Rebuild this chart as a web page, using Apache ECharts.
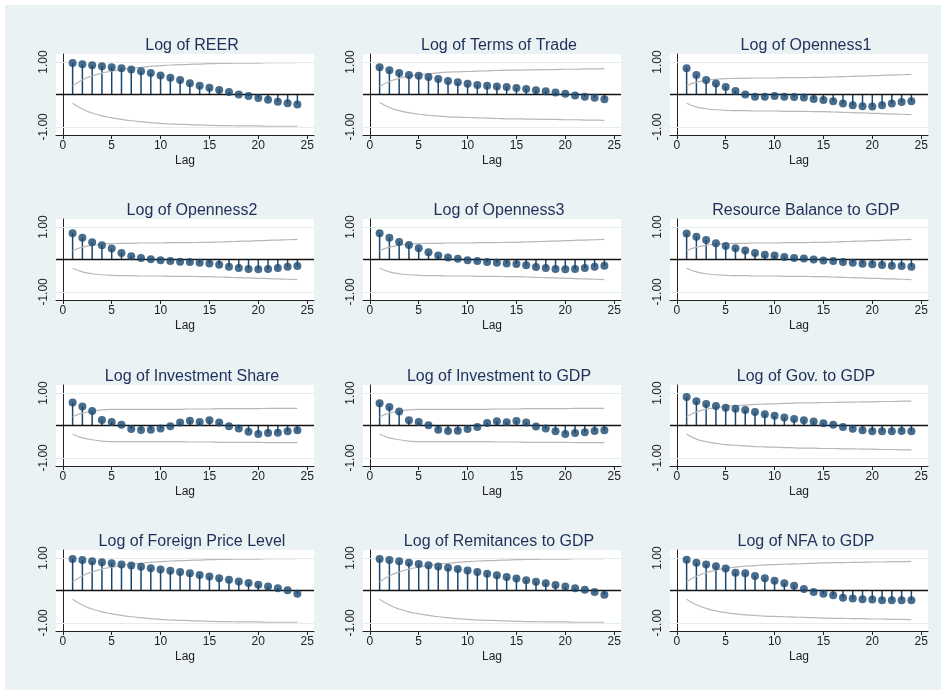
<!DOCTYPE html>
<html>
<head>
<meta charset="utf-8">
<title>ACF</title>
<script src="https://cdn.jsdelivr.net/npm/echarts@6/dist/echarts.min.js"></script>
<style>body{margin:0;background:#fff}</style>
</head>
<body>
<div id="main" style="width:946px;height:695px;"></div>
<script type="text/javascript">
var lags = [1,2,3,4,5,6,7,8,9,10,11,12,13,14,15,16,17,18,19,20,21,22,23,24];
var titles = ['Log of REER','Log of Terms of Trade','Log of Openness1',
  'Log of Openness2','Log of Openness3','Resource Balance to GDP',
  'Log of Investment Share','Log of Investment to GDP','Log of Gov. to GDP',
  'Log of Foreign Price Level','Log of Remitances to GDP','Log of NFA to GDP'];

var acfReer = [0.97,0.93,0.9,0.87,0.84,0.81,0.77,0.72,0.66,0.59,0.52,0.45,0.35,0.27,0.21,0.14,0.08,0.0,-0.05,-0.11,-0.16,-0.22,-0.27,-0.31];
var acfTot = [0.84,0.75,0.66,0.6,0.58,0.54,0.48,0.42,0.38,0.33,0.29,0.27,0.25,0.23,0.2,0.17,0.13,0.1,0.06,0.02,-0.03,-0.07,-0.1,-0.15];
var acfOpen1 = [0.81,0.6,0.45,0.34,0.23,0.11,0.0,-0.07,-0.07,-0.05,-0.07,-0.08,-0.09,-0.14,-0.17,-0.21,-0.28,-0.33,-0.36,-0.37,-0.33,-0.28,-0.23,-0.21];
var acfOpen2 = [0.81,0.67,0.53,0.44,0.34,0.2,0.1,0.05,0.01,-0.02,-0.05,-0.07,-0.08,-0.1,-0.12,-0.16,-0.22,-0.26,-0.29,-0.3,-0.29,-0.26,-0.22,-0.2];
var acfOpen3 = [0.81,0.67,0.54,0.45,0.35,0.22,0.12,0.06,0.02,-0.02,-0.05,-0.08,-0.1,-0.12,-0.14,-0.18,-0.23,-0.26,-0.29,-0.3,-0.29,-0.26,-0.22,-0.19];
var acfRes = [0.8,0.7,0.6,0.5,0.42,0.35,0.28,0.2,0.15,0.12,0.08,0.05,0.03,0.0,-0.03,-0.05,-0.08,-0.1,-0.13,-0.15,-0.17,-0.19,-0.2,-0.22];
var acfInvS = [0.71,0.59,0.45,0.17,0.11,0.02,-0.11,-0.14,-0.13,-0.09,-0.02,0.09,0.15,0.11,0.16,0.09,-0.02,-0.09,-0.19,-0.26,-0.23,-0.22,-0.18,-0.15];
var acfInvG = [0.69,0.57,0.43,0.16,0.11,0.01,-0.13,-0.17,-0.16,-0.11,-0.05,0.08,0.13,0.1,0.14,0.09,-0.03,-0.09,-0.18,-0.26,-0.23,-0.21,-0.17,-0.15];
var acfGov = [0.88,0.75,0.66,0.6,0.55,0.52,0.48,0.42,0.35,0.3,0.25,0.2,0.16,0.12,0.07,0.02,-0.05,-0.1,-0.15,-0.18,-0.18,-0.18,-0.17,-0.18];
var acfFpl = [0.97,0.94,0.9,0.87,0.84,0.8,0.77,0.73,0.69,0.65,0.61,0.57,0.53,0.48,0.43,0.38,0.33,0.28,0.23,0.18,0.12,0.07,0.01,-0.1];
var acfRem = [0.97,0.94,0.9,0.86,0.82,0.78,0.74,0.7,0.66,0.62,0.57,0.52,0.47,0.42,0.37,0.32,0.27,0.22,0.17,0.12,0.07,0.02,-0.05,-0.13];
var acfNfa = [0.95,0.86,0.8,0.75,0.68,0.55,0.53,0.45,0.38,0.3,0.22,0.15,0.05,-0.05,-0.1,-0.15,-0.22,-0.25,-0.27,-0.28,-0.3,-0.3,-0.3,-0.3];

var bandHigh = [0.27,0.45,0.57,0.66,0.72,0.77,0.81,0.84,0.87,0.89,0.91,0.92,0.93,0.94,0.95,0.96,0.96,0.97,0.97,0.97,0.98,0.98,0.98,0.98];
var bandTot = [0.25,0.4,0.5,0.56,0.61,0.64,0.67,0.69,0.7,0.71,0.72,0.73,0.74,0.75,0.75,0.76,0.76,0.77,0.77,0.78,0.78,0.79,0.79,0.8];
var bandOpen = [0.27,0.38,0.44,0.47,0.49,0.5,0.5,0.51,0.51,0.51,0.52,0.52,0.52,0.53,0.53,0.54,0.55,0.56,0.57,0.58,0.59,0.6,0.61,0.62];
var bandInv = [0.27,0.38,0.44,0.48,0.5,0.5,0.5,0.5,0.5,0.5,0.5,0.5,0.51,0.51,0.51,0.52,0.52,0.52,0.52,0.52,0.53,0.53,0.53,0.53];
var bandGov = [0.27,0.42,0.5,0.55,0.59,0.61,0.63,0.65,0.66,0.67,0.68,0.69,0.7,0.7,0.71,0.71,0.72,0.72,0.73,0.73,0.74,0.74,0.75,0.75];
var bandNfa = [0.27,0.44,0.55,0.63,0.68,0.72,0.75,0.77,0.79,0.8,0.81,0.82,0.83,0.84,0.85,0.86,0.86,0.87,0.87,0.88,0.88,0.89,0.89,0.9];

var acfs = [acfReer,acfTot,acfOpen1,acfOpen2,acfOpen3,acfRes,acfInvS,acfInvG,acfGov,acfFpl,acfRem,acfNfa];
var bands = [bandHigh,bandTot,bandOpen,bandOpen,bandOpen,bandOpen,bandInv,bandInv,bandGov,bandHigh,bandHigh,bandNfa];

var navy = '#1a476f';
var colLeft = [56, 363, 670];
var rowTop = [54, 219, 385, 550];
var W = 258, H = 81;

var grids = [], xAxes = [], yAxes = [], series = [], tts = [];
for (var i = 0; i < 12; i++) {
    var c = i % 3, r = Math.floor(i / 3);
    grids.push({left: colLeft[c], top: rowTop[r], width: W, height: H, backgroundColor: '#fff', show: true, borderWidth: 0});
    tts.push({text: titles[i], left: colLeft[c] + W / 2 + 2, top: rowTop[r] - 21, textAlign: 'center',
        textStyle: {fontFamily: 'Liberation Sans', fontWeight: 'normal', fontSize: 16, color: '#1e2f5a'}});
    xAxes.push({gridIndex: i, type: 'value', min: -0.7, max: 25.7, name: 'Lag', nameLocation: 'middle', nameGap: 20,
        nameTextStyle: {fontFamily: 'Liberation Sans', fontSize: 12, color: '#222'},
        axisLine: {onZero: false, lineStyle: {color: '#222'}},
        axisTick: {customValues: [0,5,10,15,20,25], length: 4, lineStyle: {color: '#222'}},
        axisLabel: {customValues: [0,5,10,15,20,25], fontFamily: 'Liberation Sans', fontSize: 12, color: '#222', margin: 5},
        splitLine: {show: false}});
    yAxes.push({gridIndex: i, type: 'value', min: -1.25, max: 1.25,
        axisLine: {show: true, lineStyle: {color: '#222'}},
        axisTick: {customValues: [-1, 1], length: 4, lineStyle: {color: '#222'}},
        axisLabel: {customValues: [-1, 1], rotate: 90, fontFamily: 'Liberation Sans', fontSize: 12, color: '#222', margin: 6,
            formatter: function (v) { return v.toFixed(2); }},
        splitLine: {show: false}});
    var hi = [], lo = [], pts = [];
    for (var k = 0; k < lags.length; k++) {
        hi.push([lags[k], bands[i][k]]);
        lo.push([lags[k], -bands[i][k]]);
        pts.push([lags[k], acfs[i][k]]);
    }
    series.push({type: 'line', xAxisIndex: i, yAxisIndex: i, data: hi, smooth: true, symbol: 'none',
        lineStyle: {color: '#b8b8b8', width: 1.2}, silent: true,
        markLine: {symbol: 'none', silent: true, label: {show: false},
            data: [{yAxis: 1, lineStyle: {color: '#e3ecee', width: 1, type: 'solid'}},
                   {yAxis: -1, lineStyle: {color: '#e3ecee', width: 1, type: 'solid'}},
                   {yAxis: 0, lineStyle: {color: '#111', width: 1.4, type: 'solid'}}]}});
    series.push({type: 'line', xAxisIndex: i, yAxisIndex: i, data: lo, smooth: true, symbol: 'none',
        lineStyle: {color: '#b8b8b8', width: 1.2}, silent: true});
    series.push({type: 'bar', xAxisIndex: i, yAxisIndex: i, data: pts, barWidth: 1.5,
        itemStyle: {color: navy}, silent: true});
    series.push({type: 'scatter', xAxisIndex: i, yAxisIndex: i, data: pts, symbolSize: 8,
        itemStyle: {color: navy}, silent: true, z: 5});
}

var myChart = echarts.init(document.getElementById('main'));
myChart.setOption({
    animation: false,
    backgroundColor: '#fff',
    graphic: [{type: 'rect', shape: {x: 5, y: 5, width: 936, height: 685}, style: {fill: '#eaf2f3'}, z: -10}],
    title: tts,
    grid: grids,
    xAxis: xAxes,
    yAxis: yAxes,
    series: series
});
</script>
</body>
</html>
